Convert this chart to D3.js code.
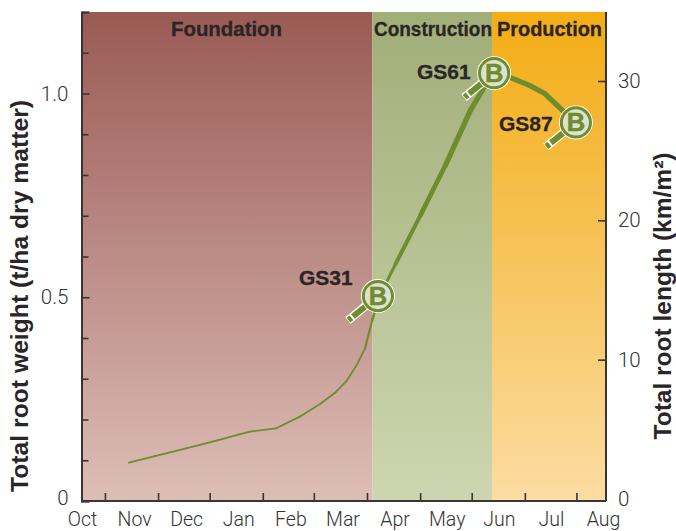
<!DOCTYPE html>
<html><head><meta charset="utf-8">
<script src="https://cdn.jsdelivr.net/npm/d3@7"></script>
<style>html,body{margin:0;padding:0;background:#fff;overflow:hidden}svg{display:block}</style></head>
<body><svg id="c" width="676" height="531"></svg>
<script>
const months=["Oct","Nov","Dec","Jan","Feb","Mar","Apr","May","Jun","Jul","Aug"];
const monthPos=[0,1,2,3,4,5,6,7,8,9,10];
const monthTicks=[0.44,1.46,2.45,3.47,4.45,5.47,6.49,7.48,8.5,9.49];
const phaseNames=["Foundation","Construction","Production"];
const phaseStart=[-0.01,5.57,7.87];
const phaseEnd=[5.57,7.87,10.06];
const curveMonth=[0.9,1.4,2.0,2.6,3.0,3.22,3.72,4.18,4.57,4.85,5.08,5.26,5.43,5.57,5.71,6.02,6.5,6.98,7.46,7.9,8.2,8.59,8.88,9.46];
const curveWeight=[0.094,0.11,0.129,0.149,0.163,0.17,0.178,0.207,0.238,0.265,0.295,0.331,0.373,0.444,0.503,0.582,0.702,0.825,0.96,1.054,1.04,1.02,1.0,0.93];
const stageNames=["GS31","GS61","GS87"];
const stageMonth=[5.68,7.91,9.48];
const stageWeight=[0.503,1.05,0.929];
const weightMajor=[0,0.5,1.0];
const weightMinor=[0.1,0.2,0.3,0.4,0.6,0.7,0.8,0.9,1.1,1.2];
const lengthTicks=[0,10,20,30];

const L=81.5,R=606,T=12,B=501;
const BOLD='"Liberation Sans",Arial,sans-serif';
const svg=d3.select("#c");
const x=d3.scaleLinear().domain([0,10]).range([82,603]);
const y=d3.scaleLinear().domain([0,1.2]).range([B,T]);
const yR=d3.scaleLinear().domain([0,30]).range([499,81]);
const widthScale=d3.scaleLinear().domain([0,5.3,5.6,6.0,6.8,10]).range([1.8,1.8,2.6,4,5.2,5.2]);

const grads=[["#9a5a54","#ddbeb7"],["#a1ae78","#cdd6b0"],["#f3ac14","#fbdca2"]];
const defs=svg.append("defs");
grads.forEach((g,i)=>{
  const lg=defs.append("linearGradient").attr("id","g"+i).attr("x1",0).attr("x2",0).attr("y1",0).attr("y2",1);
  lg.append("stop").attr("offset",0).attr("stop-color",g[0]);
  lg.append("stop").attr("offset",1).attr("stop-color",g[1]);
});
svg.selectAll("rect.phase").data(phaseNames).join("rect").attr("class","phase")
  .attr("x",(d,i)=>x(phaseStart[i])).attr("width",(d,i)=>x(phaseEnd[i])-x(phaseStart[i]))
  .attr("y",T).attr("height",B-T).attr("fill",(d,i)=>`url(#g${i})`);

const titleX=[226.5,433,549.5], titleLen=[111,118,105];
svg.selectAll("text.phase").data(phaseNames).join("text").attr("class","phase")
  .attr("x",(d,i)=>titleX[i]).attr("y",36).attr("text-anchor","middle")
  .attr("font-family",BOLD).attr("font-size",19.5).attr("font-weight",700).attr("fill","#2a2526")
  .attr("stroke","#2a2526").attr("stroke-width",0.3)
  .attr("textLength",(d,i)=>titleLen[i]).attr("lengthAdjust","spacingAndGlyphs").text(d=>d);

const line=d3.line().x(d=>x(d[0])).y(d=>y(d[1]));
const pts=d3.zip(curveMonth,curveWeight);
svg.selectAll("path.seg").data(d3.pairs(pts)).join("path").attr("class","seg")
  .attr("d",d=>line(d)).attr("fill","none").attr("stroke","#6f8c2e")
  .attr("stroke-linecap","round").attr("stroke-width",d=>widthScale(d[0][0]));

function styleAxis(g,col,size){
  g.select(".domain").attr("stroke",col).attr("stroke-width",2);
  g.selectAll(".tick line").attr("stroke",col).attr("stroke-width",1.6);
  g.selectAll(".tick text").style("font-family","Roboto").style("font-weight",300).style("font-size",(size||20.5)+"px").attr("fill","#333");
}
const gl=svg.append("g").attr("transform",`translate(${L},0)`)
  .call(d3.axisLeft(y).tickValues(weightMajor).tickSize(-8).tickPadding(13).tickFormat(d=>d===0?"0":d3.format(".1f")(d)));
styleAxis(gl,"#3a3433");
gl.selectAll(".tick").filter(d=>d===0).select("text").attr("y",-3);
const glm=svg.append("g").attr("transform",`translate(${L},0)`)
  .call(d3.axisLeft(y).tickValues(weightMinor).tickSize(-7).tickFormat(""));
styleAxis(glm,"#3a3433");glm.select(".domain").remove();

const gr=svg.append("g").attr("transform",`translate(${R},0)`)
  .call(d3.axisRight(yR).tickValues(lengthTicks).tickSize(-8).tickPadding(12));
styleAxis(gr,"#3a3433");
gr.select(".domain").attr("d",`M0,${T}V${B}`);
gr.selectAll(".tick").filter(d=>d===0).select("line").remove();

const gb=svg.append("g").attr("transform",`translate(0,${B})`)
  .call(d3.axisBottom(x).tickValues(monthTicks).tickSize(-8).tickFormat(""));
styleAxis(gb,"#3a3433");
gb.select(".domain").attr("d",`M${L},0H${R}`).attr("stroke-width",2);
const gbl=svg.append("g").attr("transform",`translate(0,${B})`)
  .call(d3.axisBottom(x).tickValues(monthPos).tickSize(0).tickPadding(0).tickFormat(d=>months[d]));
styleAxis(gbl,"#3a3433",19.5);gbl.select(".domain").remove();
gbl.selectAll(".tick text").attr("y",25).attr("dy",0);

const titleAttrs=(s,tx,len,t)=>s.attr("transform",`translate(${tx},296) rotate(-90)`).attr("text-anchor","middle")
  .attr("font-family",BOLD).attr("font-size",23.5).attr("font-weight",700).attr("fill","#2a2526")
  .attr("textLength",len).attr("lengthAdjust","spacingAndGlyphs").text(t);
svg.append("text").call(titleAttrs,28,392,"Total root weight (t/ha dry matter)");
svg.append("text").call(titleAttrs,671,287,"Total root length (km/m²)");

const labelX=[299,417,499], labelY=[285,79,131];
stageNames.forEach((s,i)=>{
  const g=svg.append("g").attr("transform",`translate(${x(stageMonth[i])},${y(stageWeight[i])})`);
  g.append("line").attr("x1",-10).attr("y1",8).attr("x2",-30).attr("y2",24.5).attr("stroke","#fff").attr("stroke-width",8.5);
  g.append("line").attr("x1",-12).attr("y1",10).attr("x2",-25).attr("y2",20.5).attr("stroke","#6f8c2e").attr("stroke-width",6);
  g.append("line").attr("x1",-26.5).attr("y1",21.7).attr("x2",-29.5).attr("y2",24.1).attr("stroke","#6f8c2e").attr("stroke-width",6);
  g.append("circle").attr("r",17).attr("fill","#fff");
  g.append("circle").attr("r",14.6).attr("fill","#dde2d0").attr("stroke","#6f8c2e").attr("stroke-width",3);
  g.append("text").attr("text-anchor","middle").attr("y",9).attr("font-family",BOLD).attr("font-size",25.5).attr("font-weight",700)
    .attr("fill","#6f8c2e").attr("stroke","#6f8c2e").attr("stroke-width",0.5).text("B");
  svg.append("text").attr("x",labelX[i]).attr("y",labelY[i])
    .attr("font-family",BOLD).attr("font-size",21).attr("font-weight",700).attr("fill","#2a2526")
    .attr("stroke","#2a2526").attr("stroke-width",0.3).text(s);
});
</script></body></html>
